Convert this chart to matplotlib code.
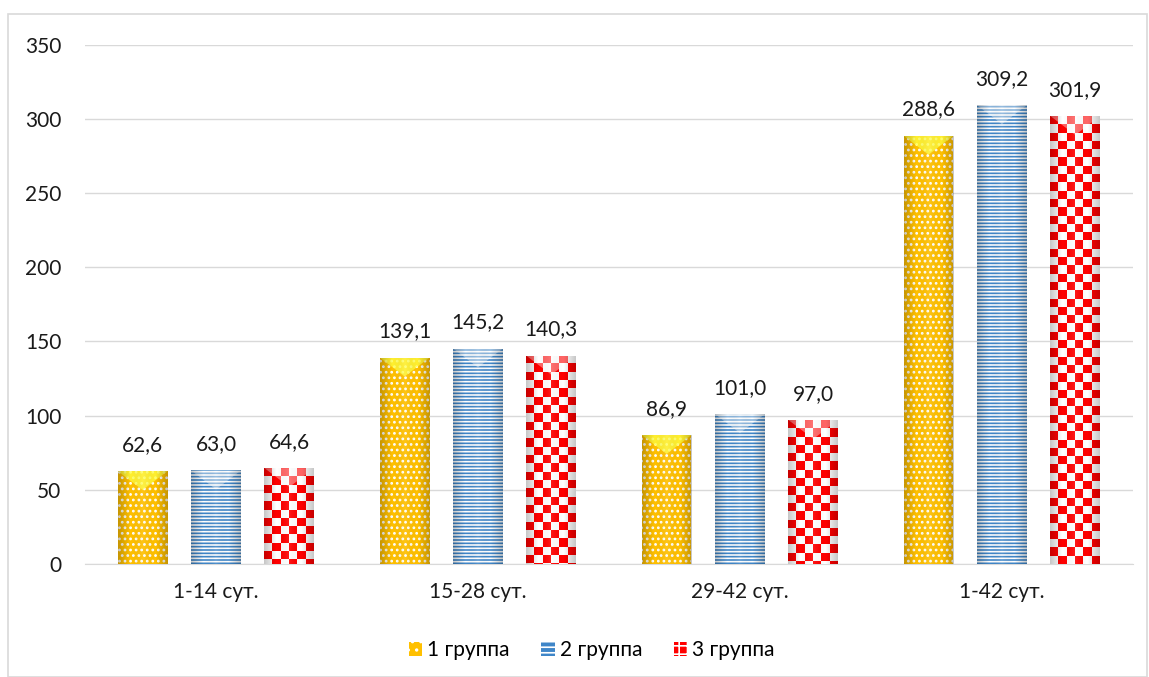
import numpy as np
import matplotlib.pyplot as plt
from matplotlib.patches import Rectangle, Polygon, Patch
from matplotlib.colors import LinearSegmentedColormap

categories = ['1-14 сут.', '15-28 сут.', '29-42 сут.', '1-42 сут.']
group_names = ['1 группа', '2 группа', '3 группа']
group1 = [62.6, 139.1, 86.9, 288.6]
group2 = [63.0, 145.2, 101.0, 309.2]
group3 = [64.6, 140.3, 97.0, 301.9]
yticks = [0, 50, 100, 150, 200, 250, 300, 350]

plt.rcParams['font.family'] = ['Lato', 'DejaVu Sans']
plt.rcParams['hatch.color'] = 'white'
plt.rcParams['hatch.linewidth'] = 1.2

fig = plt.figure(figsize=(11.49, 6.77), dpi=100)
ax = fig.add_axes([0.074, 0.167, 0.912, 0.767])

# outer frame of the chart
fig.patches.append(Rectangle((0.007, 0.0), 0.991, 0.979, transform=fig.transFigure,
                             fill=False, edgecolor='#d9d9d9', linewidth=1.2))

x = np.arange(len(categories))
width = 0.19
step = 0.28
colors = ['#ffc000', '#3f86c8', '#ff0000']
hatches = ['...', '-----', None]
series = [group1, group2, group3]

ax.set_xlim(-0.5, len(categories) - 0.5)
ax.set_ylim(0, 350)
# pixels per data unit, used to keep the fills square
px_x = ax.bbox.width / len(categories)
px_y = ax.bbox.height / 350

shade = LinearSegmentedColormap.from_list('shade', [(0, 0, 0, 0.22), (0, 0, 0, 0.0),
                                                    (1, 1, 1, 0.10), (0, 0, 0, 0.0),
                                                    (0, 0, 0, 0.22)])
checker = LinearSegmentedColormap.from_list('chk', ['#ff0000', 'white'])

for i, vals in enumerate(series):
    pos = x + (i - 1) * step
    if i < 2:
        bars = ax.bar(pos, vals, width, color=colors[i], hatch=hatches[i],
                      edgecolor='white', linewidth=0, zorder=3)
    else:
        bars = ax.bar(pos, vals, width, color='white', linewidth=0, zorder=3)
    for b, v in zip(bars, vals):
        x0, w, h = b.get_x(), b.get_width(), b.get_height()
        if i == 2:
            # checkerboard fill, cells anchored at the bar top
            nx = 6
            cell = w * px_x / nx / px_y
            ny = int(np.ceil(h / cell))
            board = (np.add.outer(np.arange(ny), np.arange(nx)) % 2).astype(float)
            im = ax.imshow(board, cmap=checker, extent=(x0, x0 + w, h - ny * cell, h),
                           origin='upper', aspect='auto', interpolation='nearest', zorder=3.5)
            im.set_clip_path(b)
        # lighter wedge at the top of each bar
        depth = w * px_x * 0.38 / px_y
        tri = Polygon([(x0, h), (x0 + w, h), (x0 + w / 2, h - depth)], closed=True,
                      facecolor='#ffff40' if i == 0 else 'white',
                      alpha=0.75 if i == 0 else 0.4, linewidth=0, zorder=3.6)
        ax.add_patch(tri)
        tri.set_clip_path(b)
        # rounded side shading
        g = ax.imshow(np.linspace(0, 1, 64).reshape(1, -1), cmap=shade,
                      extent=(x0, x0 + w, 0, h), aspect='auto', zorder=3.7)
        g.set_clip_path(b)
        ax.text(x0 + w / 2, h + 11, f'{v:.1f}'.replace('.', ','), ha='center',
                va='bottom', fontsize=15, color='#1a1a1a', zorder=5)

ax.set_yticks(yticks)
ax.set_xticks(x)
ax.set_xticklabels(categories)
ax.tick_params(length=0, labelsize=15, colors='#1a1a1a')
ax.tick_params(axis='y', pad=17)
ax.tick_params(axis='x', pad=13)
ax.grid(axis='y', color='#d9d9d9', linewidth=1, zorder=0)
for s in ['top', 'right', 'left']:
    ax.spines[s].set_visible(False)
ax.spines['bottom'].set_color('#d9d9d9')

handles = [Patch(facecolor=colors[0], hatch='..', edgecolor='white', linewidth=0),
           Patch(facecolor=colors[1], hatch='---', edgecolor='white', linewidth=0),
           Patch(facecolor=colors[2], hatch='++', edgecolor='white', linewidth=0)]
fig.legend(handles, group_names, loc='center', bbox_to_anchor=(0.515, 0.04), ncol=3,
           frameon=False, fontsize=15, handlelength=0.65, handleheight=0.65,
           handletextpad=0.25, columnspacing=1.5)

fig.savefig('out.png', dpi=100)
